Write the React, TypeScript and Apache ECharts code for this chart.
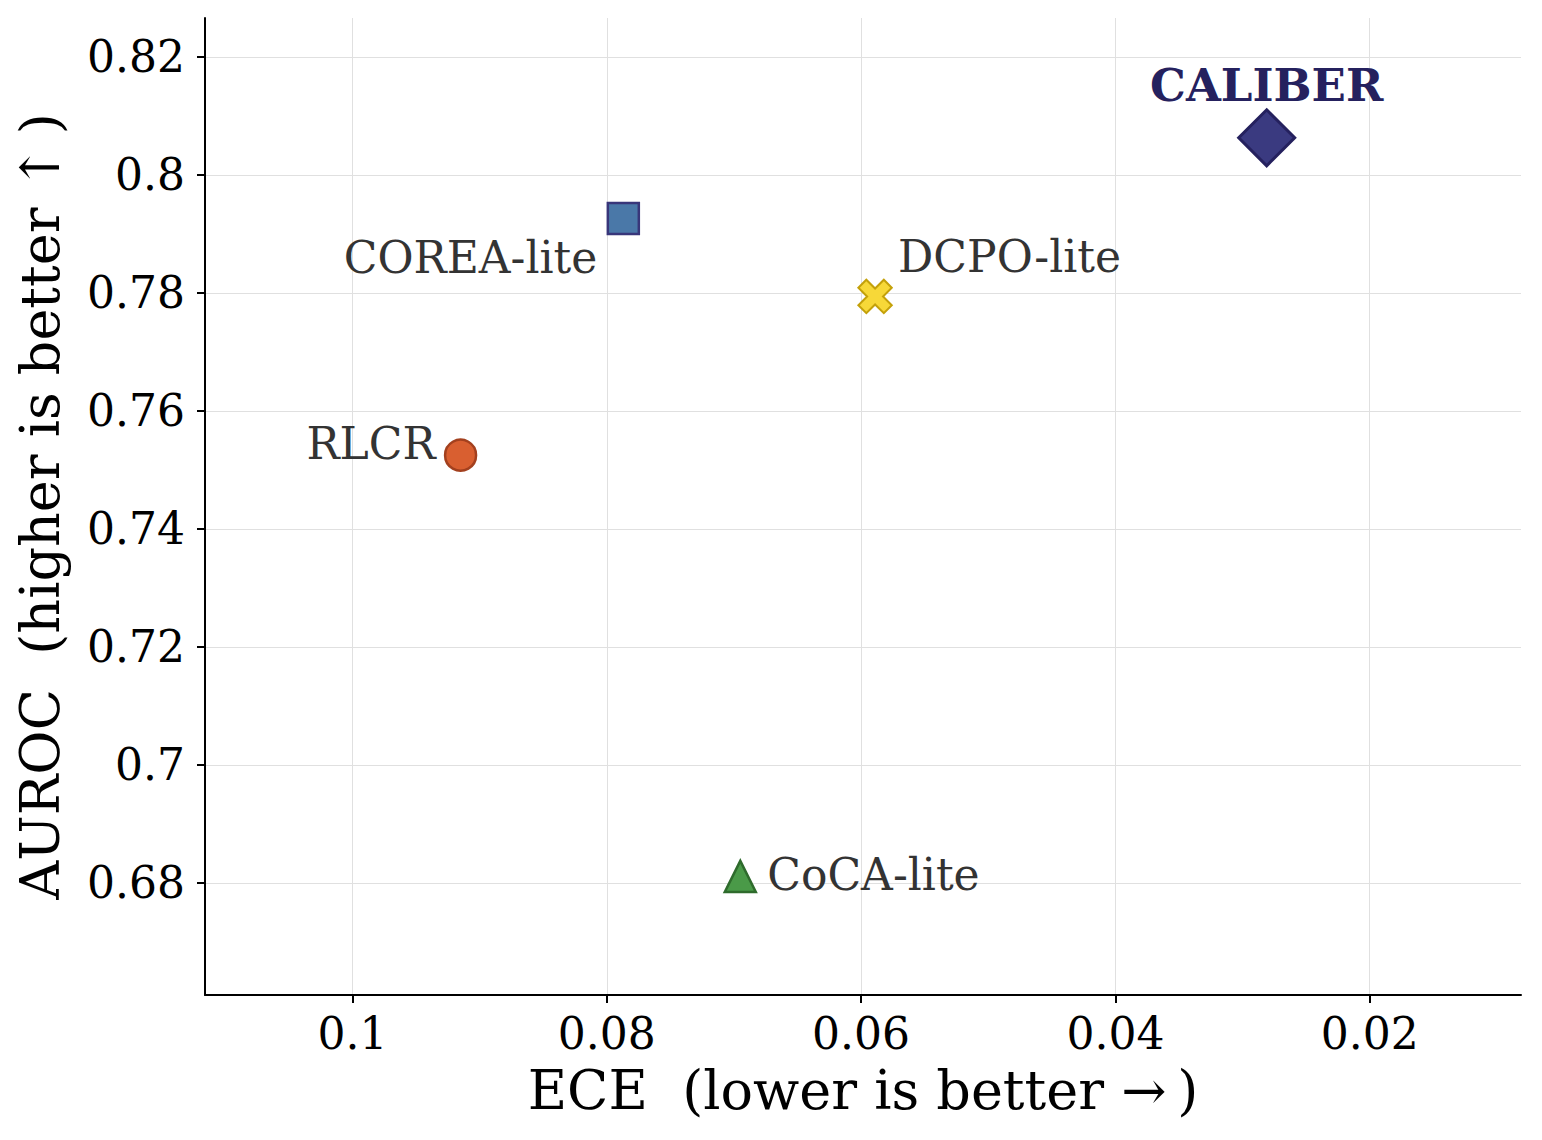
import React, { useEffect, useRef } from "react";
import * as echarts from "echarts";

const methods = ["CALIBER", "COREA-lite", "DCPO-lite", "RLCR", "CoCA-lite"];
const eceValues = [0.0281, 0.0787, 0.0589, 0.0915, 0.0695];
const aurocValues = [0.8063, 0.7926, 0.7794, 0.7525, 0.6811];
const xTicks = [0.1, 0.08, 0.06, 0.04, 0.02];
const yTicks = [0.68, 0.7, 0.72, 0.74, 0.76, 0.78, 0.8, 0.82];

const FONT = "DejaVu Serif";
const PLUS =
  "path://M-1,-3.2L1,-3.2L1,-1L3.2,-1L3.2,1L1,1L1,3.2L-1,3.2L-1,1L-3.2,1L-3.2,-1L-1,-1Z";

const styles: any[] = [
  {
    symbol: "diamond", size: 56, rotate: 0, fill: "#3a3a80", edge: "#25215e", bw: 3,
    label: { align: "center", offset: [0, -52], color: "#25215e", fontWeight: "bold", fontSize: 45 },
  },
  {
    symbol: "rect", size: 31, rotate: 0, fill: "#4a78a8", edge: "#38367a", bw: 2.5,
    label: { align: "right", offset: [-26, 39], color: "#333333", fontWeight: "normal" },
  },
  {
    symbol: PLUS, size: 36, rotate: 45, fill: "#f7d838", edge: "#c4a10a", bw: 2,
    label: { align: "left", offset: [23, -40], color: "#333333", fontWeight: "normal" },
  },
  {
    symbol: "circle", size: 31, rotate: 0, fill: "#d95f30", edge: "#a3401e", bw: 2.5,
    label: { align: "right", offset: [-25, -12], color: "#333333", fontWeight: "normal" },
  },
  {
    symbol: "triangle", size: 31, rotate: 0, fill: "#4a9a48", edge: "#2e6b2c", bw: 2.5,
    label: { align: "left", offset: [27, -2], color: "#333333", fontWeight: "normal" },
  },
];

export default function App() {
  const ref = useRef<HTMLDivElement>(null);
  useEffect(() => {
    if (!ref.current) return;
    const chart = echarts.init(ref.current, undefined, { renderer: "svg" });
    const series = methods.map((m, i) => {
      const s = styles[i];
      return {
        type: "scatter",
        name: m,
        symbol: s.symbol,
        symbolSize: s.size,
        symbolRotate: s.rotate,
        itemStyle: { color: s.fill, borderColor: s.edge, borderWidth: s.bw, opacity: 1 },
        label: {
          show: true,
          position: "inside",
          formatter: m,
          fontFamily: FONT,
          fontSize: 44,
          verticalAlign: "middle",
          ...s.label,
        },
        data: [[eceValues[i], aurocValues[i]]],
        z: 3,
      };
    });
    chart.setOption({
      animation: false,
      backgroundColor: "#ffffff",
      grid: {
        left: 205, right: 21, top: 18, bottom: 145,
        containLabel: false, outerBoundsMode: "none",
      },
      xAxis: {
        type: "value",
        inverse: true,
        min: 0.0081,
        max: 0.1116,
        name: "ECE  (lower is better \u2192\u2009)",
        nameLocation: "middle",
        nameGap: 68,
        nameTextStyle: { fontFamily: FONT, fontSize: 54, color: "#000" },
        axisLine: { show: true, onZero: false, lineStyle: { color: "#000", width: 2 } },
        axisTick: {
          show: true, inside: false, length: 8, customValues: xTicks,
          lineStyle: { color: "#000", width: 2 },
        },
        axisLabel: {
          customValues: xTicks,
          fontFamily: FONT, fontSize: 44, color: "#000", margin: 16,
          formatter: (v: number) => String(v),
        },
        splitLine: { show: true, lineStyle: { color: "#e0e0e0", width: 1 } },
      },
      yAxis: {
        type: "value",
        min: 0.661,
        max: 0.8266,
        name: "AUROC  (higher is better \u2191\u2009)",
        nameLocation: "middle",
        nameGap: 138,
        nameTextStyle: { fontFamily: FONT, fontSize: 54, color: "#000" },
        axisLine: { show: true, onZero: false, lineStyle: { color: "#000", width: 2 } },
        axisTick: {
          show: true, inside: false, length: 8, customValues: yTicks,
          lineStyle: { color: "#000", width: 2 },
        },
        axisLabel: {
          customValues: yTicks,
          fontFamily: FONT, fontSize: 44, color: "#000", margin: 20,
          formatter: (v: number) => String(v),
        },
        splitLine: { show: true, lineStyle: { color: "#e0e0e0", width: 1 } },
      },
      series,
    });
    return () => chart.dispose();
  }, []);
  return (
    <div
      ref={ref}
      style={{ position: "absolute", left: 0, top: 0, width: 1542, height: 1140 }}
    />
  );
}
